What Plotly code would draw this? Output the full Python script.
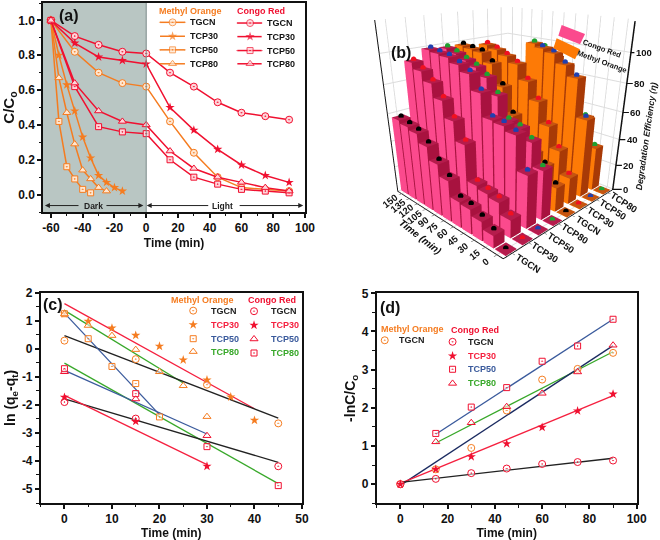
import plotly.graph_objects as go

FONT = "Liberation Sans"
MO_C = "#f57c20"
CR_C = "#f01030"
BLK, RED, BLU, GRN = "#222222", "#f5203f", "#3a5a9c", "#38a82a"

# ---------- panel a data
t_long = [-60, -45, -30, -15, 0, 15, 30, 45, 60, 75, 90]
a_mo_tgcn = [1, .82, .70, .64, .62, .42, .24, .10, .04, .03, .02]
t_mo30 = [-60, -55, -50, -45, -40, -35, -30, -25, -20, -15]
a_mo_30 = [1, .80, .63, .48, .33, .21, .11, .07, .04, .02]
t_mo50 = [-60, -55, -50, -45, -40, -35]
a_mo_50 = [1, .42, .16, .09, .03, .01]
t_mo80 = [-60, -55, -50, -45, -40, -35, -30, -25]
a_mo_80 = [1, .67, .47, .29, .14, .09, .04, .02]
a_cr_tgcn = [1, .91, .86, .82, .81, .70, .62, .53, .47, .45, .43]
a_cr_30 = [1, .87, .79, .77, .75, .50, .37, .26, .17, .11, .07]
a_cr_50 = [1, .62, .39, .36, .35, .20, .10, .06, .03, .02, .01]
a_cr_80 = [1, .64, .48, .42, .40, .25, .15, .10, .07, .04, .02]

# ---------- panel b data
b_times = [0, 15, 30, 45, 60, 75, 90, 105, 120, 135, 150]
b_cats = ["TGCN", "TCP30", "TCP50", "TCP80", "TGCN", "TCP30", "TCP50", "TCP80"]
b_cr_tgcn = [0, 9, 14, 18, 19, 30, 38, 47, 53, 55, 57]
b_cr_30 = [0, 13, 21, 23, 25, 50, 63, 74, 83, 89, 93]
b_cr_50 = [0, 38, 61, 64, 65, 80, 90, 94, 97, 98, 99]
b_cr_80 = [0, 36, 52, 58, 60, 75, 85, 90, 93, 96, 98]
b_mo_tgcn = [0, 18, 30, 36, 38, 58, 76, 90, 96, 97, 98]
b_mo_30 = [0, 20, 37, 52, 67, 79, 89, 93, 96, 98]
b_mo_50 = [0, 58, 84, 91, 97, 99]
b_mo_80 = [0, 33, 53, 71, 86, 91, 96, 98]
b_series = [b_cr_tgcn, b_cr_30, b_cr_50, b_cr_80, b_mo_tgcn, b_mo_30, b_mo_50, b_mo_80]
b_dots = ["#000000", "#f01020", "#2040b0", "#20a030"] * 2
b_zticks = [0, 20, 40, 60, 80, 100]

# ---------- panel c data
c_mo_tgcn_x = [0, 15, 30, 45]; c_mo_tgcn_y = [.29, -.37, -1.28, -2.66]
c_mo_30_x = [0, 5, 10, 15, 20, 25, 30, 35, 40]; c_mo_30_y = [1.25, .98, .74, .48, .09, -.40, -1.11, -1.72, -2.55]
c_mo_50_x = [0, 5, 10, 15, 20]; c_mo_50_y = [1.25, .36, -.63, -1.24, -2.43]
c_mo_80_x = [0, 5, 10, 15, 20, 25, 30]; c_mo_80_y = [1.24, .83, .47, -.03, -.82, -1.32, -2.42]
c_cr_tgcn_x = [0, 15, 45]; c_cr_tgcn_y = [-1.90, -2.49, -4.19]
c_cr_30_x = [0, 15, 30]; c_cr_30_y = [-1.73, -2.59, -4.19]
c_cr_50_x = [0, 15, 30]; c_cr_50_y = [-.82, -1.79, -3.10]
c_cr_80_x = [0, 15, 30, 45]; c_cr_80_y = [-.71, -1.60, -3.49, -4.88]
c_fits = [([0, 40], [1.61, -2.14], RED), ([0, 25], [1.37, -1.22], GRN), ([0, 45], [.47, -2.47], BLK),
          ([0, 20], [1.27, -2.35], BLU), ([0, 45], [-.51, -4.81], GRN), ([0, 30], [-.77, -3.04], BLU),
          ([0, 45], [-1.79, -4.05], BLK), ([0, 30], [-1.66, -4.13], RED)]

# ---------- panel d data
d_t = [0, 15, 30, 45, 60, 75, 90]
d_mo_tgcn = [0, .39, .95, 1.93, 2.74, 3.02, 3.44]
d_cr_tgcn = [0, .14, .29, .41, .53, .58, .62]
d_cr_30 = [0, .39, .72, 1.06, 1.49, 1.92, 2.36]
d_t2 = [15, 30, 45, 60, 75, 90]
d_cr_50 = [1.33, 2.02, 2.53, 3.22, 3.62, 4.32]
d_cr_80 = [1.11, 1.61, 2.03, 2.38, 2.94, 3.64]
d_fits = [([15, 90], [1.31, 4.32], BLU), ([15, 90], [1.08, 3.47], GRN), ([0, 90], [-.03, 3.63], "#1a2a60"),
          ([0, 90], [.02, 2.32], RED), ([0, 90], [.05, .68], BLK)]

fig = go.Figure()
SYM = {"c": "circle-dot", "s": "star", "q": "square-dot", "t": "triangle-up"}
SIZES = {"c": 7, "s": 7, "q": 6, "t": 7}
ann = []
shapes = []


def px_x(x):
    return x / 660


def px_y(y):
    return 1 - y / 540


def series(x, y, col, sym, ax, line=True, fill=None, width=1.5, swatch=False):
    filled = sym == "s"
    size = SIZES[sym]
    if swatch:
        size = [0, size, 0]
    fig.add_trace(go.Scatter(
        x=x, y=y, xaxis="x" + ax, yaxis="y" + ax, showlegend=False, hoverinfo="skip",
        mode="lines+markers" if line else "markers",
        line=dict(color=col, width=width),
        marker=dict(symbol=SYM[sym], size=size,
                    color=col if filled else (fill or "rgba(255,255,255,0.55)"),
                    line=dict(color=col, width=0 if filled else 1))))


def label(x, y, text, ax, col="#111111", size=9, anchor="left"):
    ann.append(dict(x=x, y=y, xref="x" + ax, yref="y" + ax, text="<b>%s</b>" % text, showarrow=False,
                    xanchor=anchor, yanchor="middle",
                    font=dict(family=FONT, size=size, color=col)))


def paper_text(x, y, text, size, angle=0):
    ann.append(dict(x=px_x(x), y=px_y(y), xref="paper", yref="paper", text=text, showarrow=False,
                    xanchor="center", yanchor="middle", textangle=angle,
                    font=dict(family=FONT, size=size, color="#111111")))


# ---------- (a)
A_SER = [(t_long, a_mo_tgcn, MO_C, "c"), (t_mo30, a_mo_30, MO_C, "s"), (t_mo50, a_mo_50, MO_C, "q"),
         (t_mo80, a_mo_80, MO_C, "t"), (t_long, a_cr_tgcn, CR_C, "c"), (t_long, a_cr_30, CR_C, "s"),
         (t_long, a_cr_50, CR_C, "q"), (t_long, a_cr_80, CR_C, "t")]
for x, y, c, s in A_SER:
    series(x, y, c, s, "1", fill="#ffe6d0" if c == MO_C else "#ffd5da")

names = ["TGCN", "TCP30", "TCP50", "TCP80"]
syms = ["c", "s", "q", "t"]
a_rows_mo = [.989, .909, .831, .751]
a_rows_cr = [.985, .907, .827, .751]
for n, s, y1, y2 in zip(names, syms, a_rows_mo, a_rows_cr):
    series([8.7, 16.6, 24.4], [y1] * 3, MO_C, s, "1", fill="#ffe6d0", swatch=True)
    label(26.1, y1, n, "1")
    series([57.4, 65.4, 72.7], [y2] * 3, CR_C, s, "1", fill="#ffd5da", swatch=True)
    label(74.8, y2, n, "1")
label(27.6, 1.055, "Methyl Orange", "1", MO_C, 9, "center")
label(72.3, 1.052, "Congo Red", "1", CR_C, 9, "center")
label(-33, -0.063, "Dark", "1", "#222222", 8.5, "center")
label(48, -0.063, "Light", "1", "#222222", 8.5, "center")
for x_to, x_from in [(-63.8, -41.7), (-1.8, -26), (.3, 40), (98.9, 57.9)]:
    ann.append(dict(x=x_to, y=-0.063, ax=x_from, ay=-0.063, xref="x1", yref="y1", axref="x1", ayref="y1",
                    showarrow=True, arrowhead=2, arrowsize=1, arrowwidth=1, arrowcolor="#222222", text=""))
shapes.append(dict(type="rect", xref="x1", yref="y1", x0=-65, x1=0, y0=-0.1, y1=1.1, layer="below",
                   fillcolor="#b9c6c3", line=dict(width=0)))
shapes.append(dict(type="line", xref="x1", yref="y1", x0=0, x1=0, y0=-0.1, y1=1.1,
                   line=dict(color="#7a8a88", width=1)))

# ---------- (c)
for xs, ys, c in c_fits:
    fig.add_trace(go.Scatter(x=xs, y=ys, xaxis="x3", yaxis="y3", mode="lines", showlegend=False,
                             hoverinfo="skip", line=dict(color=c, width=1.3)))
C_SER = [(c_mo_tgcn_x, c_mo_tgcn_y, MO_C, "c"), (c_mo_30_x, c_mo_30_y, MO_C, "s"), (c_mo_50_x, c_mo_50_y, MO_C, "q"),
         (c_mo_80_x, c_mo_80_y, MO_C, "t"), (c_cr_tgcn_x, c_cr_tgcn_y, CR_C, "c"), (c_cr_30_x, c_cr_30_y, CR_C, "s"),
         (c_cr_50_x, c_cr_50_y, CR_C, "t"), (c_cr_80_x, c_cr_80_y, CR_C, "q")]
for x, y, c, s in C_SER:
    series(x, y, c, s, "3", line=False)
c_rows_mo = [1.36, .86, .36, -.10]
c_rows_cr = [1.34, .84, .35, -.15]
txt_cols = [BLK, RED, BLU, GRN]
for n, s, s2, y1, y2, tc in zip(names, syms, ["c", "s", "t", "q"], c_rows_mo, c_rows_cr, txt_cols):
    series([27.1], [y1], MO_C, s, "3", line=False)
    label(30.4, y1, n, "3", tc)
    series([39.9], [y2], CR_C, s2, "3", line=False)
    label(43.1, y2, n, "3", tc)
label(29, 1.73, "Methyl Orange", "3", MO_C, 9, "center")
label(43.6, 1.73, "Congo Red", "3", CR_C, 9, "center")

# ---------- (d)
for xs, ys, c in d_fits:
    fig.add_trace(go.Scatter(x=xs, y=ys, xaxis="x4", yaxis="y4", mode="lines", showlegend=False,
                             hoverinfo="skip", line=dict(color=c, width=1.3)))
D_SER = [(d_t, d_mo_tgcn, MO_C, "c"), (d_t, d_cr_tgcn, CR_C, "c"), (d_t, d_cr_30, CR_C, "s"),
         (d_t2, d_cr_50, CR_C, "q"), (d_t2, d_cr_80, CR_C, "t")]
for x, y, c, s in D_SER:
    series(x, y, c, s, "4", line=False)
series([-6.6], [3.77], MO_C, "c", "4", line=False)
label(-1.4, 3.77, "TGCN", "4", BLK)
label(5.2, 4.06, "Methyl Orange", "4", MO_C, 9, "center")
label(31.5, 4.04, "Congo Red", "4", CR_C, 9, "center")
for n, s, y, tc in zip(names, syms, [3.73, 3.36, 3.01, 2.64], txt_cols):
    series([22.1], [y], CR_C, s, "4", line=False)
    label(27.7, y, n, "4", tc)

# ---------- (b) 3D bars
BAR_HX = 0.32
BAR_HY = 6.6
X_LO, X_HI, Y_LO = -0.5, 7.5, -7.5


def bars(idx_list, face_left, face_right, face_top):
    X, Y, Z, I, J, K, FC = [], [], [], [], [], [], []
    for ci in idx_list:
        for tm, val in zip(b_times, b_series[ci]):
            n = len(X)
            x0, x1, y0, y1 = ci - BAR_HX, ci + BAR_HX, tm - BAR_HY, tm + BAR_HY
            top = max(val, 0.4)
            X += [x0, x1, x1, x0, x0, x1, x1, x0]
            Y += [y0, y0, y1, y1, y0, y0, y1, y1]
            Z += [0, 0, 0, 0, top, top, top, top]
            tris = [((4, 5, 6), face_top), ((4, 6, 7), face_top),
                    ((0, 3, 7), face_left), ((0, 7, 4), face_left),
                    ((0, 1, 5), face_right), ((0, 5, 4), face_right)]
            for (a, b, c), col in tris:
                I.append(n + a); J.append(n + b); K.append(n + c); FC.append(col)
    fig.add_trace(go.Mesh3d(x=X, y=Y, z=Z, i=I, j=J, k=K, facecolor=FC, flatshading=True, hoverinfo="skip",
                            lighting=dict(ambient=1, diffuse=0, specular=0, roughness=1, fresnel=0),
                            scene="scene"))


bars([0, 1, 2, 3], "#fb4a8d", "#a8123f", "#b51c4c")
bars([4, 5, 6, 7], "#fd7a06", "#a83a06", "#c65510")
for ci, (vals, dc) in enumerate(zip(b_series, b_dots)):
    fig.add_trace(go.Scatter3d(x=[ci] * len(vals), y=b_times[:len(vals)], z=[v + 1 for v in vals], mode="markers",
                               hoverinfo="skip", showlegend=False, scene="scene",
                               marker=dict(size=3.2, color=dc, line=dict(width=0))))

# z axis drawn at the front right edge of the box
fig.add_trace(go.Scatter3d(x=[X_HI, X_HI], y=[Y_LO, Y_LO], z=[0, 119], mode="lines", hoverinfo="skip",
                           showlegend=False, scene="scene", line=dict(color="#111111", width=3)))
tick_font = dict(family=FONT, size=9.5, color="#111111")
scene_ann = [dict(x=X_HI, y=Y_LO, z=zt, text="<b>%d</b>" % zt, showarrow=True, arrowhead=0, arrowwidth=1.2,
                  arrowcolor="#111111", ax=13, ay=0, xanchor="center", yanchor="middle",
                  font=tick_font) for zt in b_zticks]
scene_ann += [dict(x=ci, y=Y_LO, z=0, text="<b>%s</b>" % c, showarrow=False, xshift=17, yshift=-10,
                   xanchor="center", yanchor="middle", textangle=33, font=tick_font)
              for ci, c in enumerate(b_cats)]
scene_ann += [dict(x=X_LO, y=t, z=0, text="<b>%d</b>" % t, showarrow=False, xshift=-11, yshift=-7,
                   xanchor="center", yanchor="middle", textangle=-38, font=tick_font)
              for t in b_times]

ax3 = dict(showbackground=True, backgroundcolor="white", gridcolor="#dddddd", showspikes=False, zeroline=False,
           showline=True, linecolor="#111111", linewidth=2, ticks="outside", ticklen=3, showticklabels=False,
           title=dict(text=""))
fig.update_layout(scene=dict(
    domain=dict(x=[0.533, 1.0], y=[1 - 347 / 540, 1.0]),
    xaxis=dict(ax3, range=[X_LO, 7.53], tickmode="array", tickvals=list(range(8))),
    yaxis=dict(ax3, range=[-7.7, 157.5], tickmode="array", tickvals=b_times),
    zaxis=dict(ax3, range=[0, 120], tickmode="array", tickvals=b_zticks, ticks=""),
    aspectmode="manual", aspectratio=dict(x=1.04, y=1.0, z=1.08), annotations=scene_ann,
    camera=dict(eye=dict(x=-1.73, y=-1.73, z=0.836), center=dict(x=0, y=0, z=-0.414), up=dict(x=0, y=0, z=1),
                projection=dict(type="perspective"))))


def zpoly(pts):
    return "M " + " L ".join("%.4f,%.4f" % (px_x(340 + a / 3), px_y(10 + b / 3)) for a, b in pts) + " Z"


shapes.append(dict(type="path", xref="paper", yref="paper", path=zpoly([(665, 45), (735, 72), (720, 103), (655, 77)]),
                   fillcolor="#fb4a8d", line=dict(width=0)))
shapes.append(dict(type="path", xref="paper", yref="paper", path=zpoly([(650, 85), (720, 118), (705, 148), (640, 115)]),
                   fillcolor="#fd7a06", line=dict(width=0)))
paper_text(340 + 785 / 3, 10 + 115 / 3, "<b>Congo Red</b>", 7.5, 20)
paper_text(340 + 785 / 3, 10 + 155 / 3, "<b>Methyl Orange</b>", 7.5, 20)
paper_text(340 + 240 / 3, 10 + 680 / 3, "<b><i>Time (min)</i></b>", 10, 38)
paper_text(340 + 918 / 3, 10 + 380 / 3, "<b><i>Degradation Efficiency (η)</i></b>", 8.8, -82)

# panel letters
for t, x, y in [("(a)", 69, 15), ("(b)", 401, 52), ("(c)", 53, 304), ("(d)", 390, 307)]:
    paper_text(x, y, "<b>%s</b>" % t, 16)


def axis(dom, rng, vals, minor, anchor, title, tfont=12, fmt="%d", standoff=None):
    d = dict(domain=dom, range=rng, anchor=anchor, automargin=False, showgrid=False, zeroline=False, showline=True,
             mirror=True, linecolor="#111111", linewidth=1.5, ticks="outside", ticklen=4, tickwidth=1.5,
             tickcolor="#111111", tickfont=dict(family=FONT, size=12, color="#111111"),
             tickmode="array", tickvals=vals, ticktext=["<b>%s</b>" % (fmt % v) for v in vals],
             minor=dict(ticks="outside", dtick=minor, ticklen=2.5, tickwidth=1, tickcolor="#111111", showgrid=False),
             title=dict(text="<b>%s</b>" % title, font=dict(family=FONT, size=tfont, color="#111111")))
    if standoff is not None:
        d["title"]["standoff"] = standoff
    return d


xa1 = axis([43 / 660, 305 / 660], [-65, 100], [-60, -40, -20, 0, 20, 40, 60, 80, 100], 10, "y1", "Time (min)", standoff=4)
ya1 = axis([1 - 212 / 540, 1 - 3 / 540], [-0.1, 1.1], [0, .2, .4, .6, .8, 1.0], .1, "x1", "C/C<sub>o</sub>", 15, "%.1f")
xa3 = axis([40.7 / 660, 302 / 660], [-5, 50], [0, 10, 20, 30, 40, 50], 5, "y3", "Time (min)", standoff=4)
ya3 = axis([1 - 503 / 540, 1 - 292.7 / 540], [-5.5, 2], [-5, -4, -3, -2, -1, 0, 1, 2], .5, "x3", "ln (q<sub>e</sub>-q<sub>t</sub>)", 14, standoff=3)
xa4 = axis([376.7 / 660, 636.7 / 660], [-10, 100], [0, 20, 40, 60, 80, 100], 10, "y4", "Time (min)", standoff=4)
ya4 = axis([1 - 503.3 / 540, 1 - 293.3 / 540], [-.5, 5], [0, 1, 2, 3, 4, 5], .5, "x4", "-lnC/C<sub>o</sub>", 14, standoff=3)

fig.update_layout(
    width=660, height=540, margin=dict(l=0, r=0, t=0, b=0, autoexpand=False), paper_bgcolor="white", plot_bgcolor="white",
    showlegend=False, annotations=ann, shapes=shapes,
    xaxis1=xa1, yaxis1=ya1, xaxis3=xa3, yaxis3=ya3, xaxis4=xa4, yaxis4=ya4,
    font=dict(family=FONT))

fig.write_html("out.html", config=dict(displayModeBar=False), post_script="document.body.style.margin='0';")
